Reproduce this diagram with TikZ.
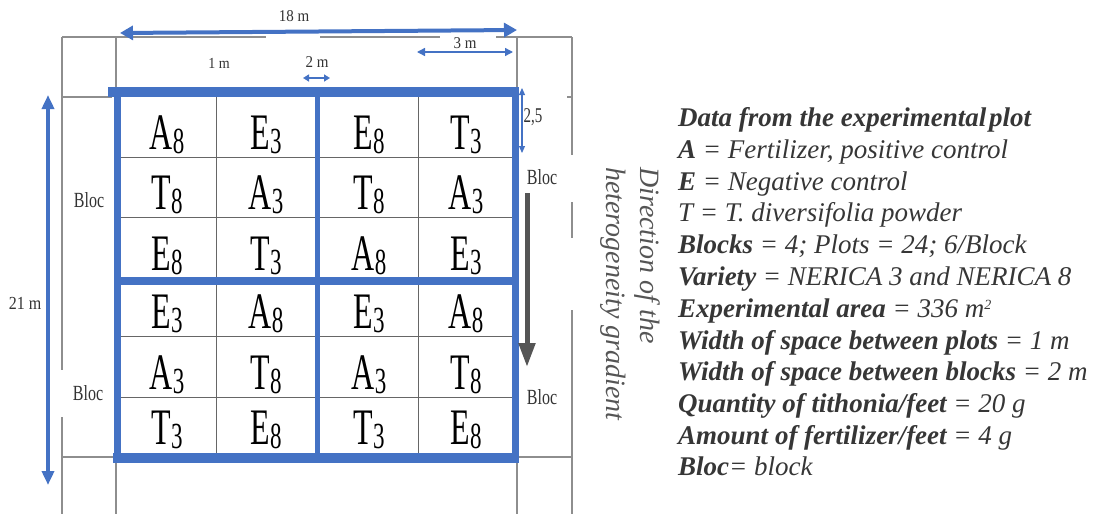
\documentclass[tikz,border=0pt]{standalone}
\usepackage{fontspec}
\setmainfont{Liberation Serif}
\usepackage{graphicx}
\usetikzlibrary{arrows.meta}

\definecolor{plotblue}{HTML}{4472C4}
\definecolor{guide}{HTML}{8E8E8E}
\definecolor{cellline}{HTML}{666666}
\definecolor{labeltext}{HTML}{333333}
\definecolor{legendtext}{HTML}{363636}
\definecolor{gradarrow}{HTML}{555555}

% treatment letter with its variety index, set tall and narrow
\newcommand{\plotcell}[2]{\scalebox{1}[1.6]{\fontsize{32}{32}\selectfont #1\raisebox{-2.5pt}{\fontsize{23}{23}\selectfont #2}}}
% small dimension label: size, vertical stretch, text
\newcommand{\dimtext}[3]{\scalebox{1}[#2]{\fontsize{#1}{#1}\selectfont #3}}

\begin{document}
\begin{tikzpicture}[x=1pt,y=-1pt,
  guideline/.style={draw=guide, line width=1.1pt},
  bluebar/.style={draw=plotblue, line width=#1},
  cellrule/.style={draw=cellline, line width=0.8pt},
  dimarrow/.style={draw=plotblue, line width=#1},
  lbl/.style={inner sep=0pt, text=labeltext},
  legendline/.style={anchor=base west, inner sep=0pt, text=legendtext,
    font=\fontsize{27}{30}\selectfont\itshape},
  cellmark/.style={anchor=base, inner sep=0pt, text=black},
  gradtext/.style={anchor=base west, rotate=-90, inner sep=0pt, text=gradarrow,
    font=\fontsize{28}{28}\selectfont\itshape}]

\useasboundingbox (0,0) rectangle (1102,514);

% ---- field layout guide lines ----
\draw[guideline] (62,37) -- (266,37);
\draw[guideline] (320,37) -- (440,37);
\draw[guideline] (496,37) -- (572,37);
\draw[guideline] (62,37) -- (62,370);
\draw[guideline] (62,417) -- (62,514);
\draw[guideline] (116,37) -- (116,90);
\draw[guideline] (116,457) -- (116,514);
\draw[guideline] (62,97) -- (112,97);
\draw[guideline] (62,457) -- (116,457);
\draw[guideline] (517,37) -- (517,88);
\draw[guideline] (517,457) -- (517,514);
\draw[guideline] (572,37) -- (572,155);
\draw[guideline] (572,202) -- (572,238);
\draw[guideline] (572,310) -- (572,514);
\draw[guideline] (567,97) -- (572,97);
\draw[guideline] (517,457) -- (572,457);

% ---- plot rules inside the blocks ----
\draw[cellrule] (216,95) -- (216,455);
\draw[cellrule] (418,95) -- (418,455);
\foreach \yy in {157,217,336,397}
  \draw[cellrule] (118,\yy) -- (514,\yy);

% ---- block borders ----
\draw[bluebar=7pt] (117,92) -- (117,462);
\draw[bluebar=7pt] (515,92) -- (515,462);
\draw[bluebar=5pt] (317,92) -- (317,458);
\draw[bluebar=8pt] (117,281) -- (515,281);
\draw[bluebar=10pt] (108,92) -- (519,92);
\draw[bluebar=10pt] (113,458) -- (519,458);

% ---- treatments ----
\foreach \nm/\xx/\yy/\lt/\ix in {
  p11/167/149/A/8, p12/266/149/E/3, p13/369/149/E/8, p14/466/149/T/3,
  p21/167/209/T/8, p22/266/209/A/3, p23/369/209/T/8, p24/466/209/A/3,
  p31/167/270/E/8, p32/266/270/T/3, p33/369/270/A/8, p34/466/270/E/3,
  p41/167/328/E/3, p42/266/328/A/8, p43/369/328/E/3, p44/466/328/A/8,
  p51/167/389/A/3, p52/266/389/T/8, p53/369/389/A/3, p54/466/389/T/8,
  p61/167/444/T/3, p62/266/444/E/8, p63/369/444/T/3, p64/466/444/E/8}
  \node[cellmark] (\nm) at (\xx,\yy) {\plotcell{\lt}{\ix}};

% ---- dimension arrows ----
\coordinate (wl) at (120,33);
\coordinate (wr) at (517,30);
\draw[dimarrow=4pt, {Triangle[length=13pt,width=14pt]}-{Triangle[length=13pt,width=14pt]}] (wl) -- (wr);
\node[lbl] (w18) at (294,16) {\dimtext{15}{1.1}{18 m}};

\coordinate (bl) at (417,52);
\coordinate (br) at (513,52);
\draw[dimarrow=1.4pt, {Triangle[length=8pt,width=8pt]}-{Triangle[length=8pt,width=8pt]}] (bl) -- (br);
\node[lbl] (w3) at (465,43) {\dimtext{15}{1.1}{3 m}};

\node[lbl] (w1) at (219,63) {\dimtext{14}{1.1}{1 m}};

\coordinate (gl) at (303,78);
\coordinate (gr) at (330,78);
\draw[dimarrow=1.8pt, {Triangle[length=6pt,width=7pt]}-{Triangle[length=6pt,width=7pt]}] (gl) -- (gr);
\node[lbl] (w2) at (317,62) {\dimtext{15}{1.1}{2 m}};

\coordinate (rt) at (522,88);
\coordinate (rb) at (522,153);
\draw[dimarrow=1.2pt, {Triangle[length=7pt,width=6pt]}-{Triangle[length=7pt,width=6pt]}] (rt) -- (rb);
\node[lbl] (h25) at (533,117) {\dimtext{15}{1.4}{2,5}};

\coordinate (lt) at (48,95);
\coordinate (lb) at (48,485);
\draw[dimarrow=3.5pt, {Triangle[length=14pt,width=12pt]}-{Triangle[length=14pt,width=12pt]}] (lt) -- (lb);
\node[lbl] (h21) at (25,303) {\dimtext{16}{1.15}{21 m}};

% ---- block labels ----
\node[lbl] (bloc1) at (89,200) {\dimtext{16}{1.35}{Bloc}};
\node[lbl] (bloc2) at (88,393) {\dimtext{16}{1.35}{Bloc}};
\node[lbl] (bloc3) at (542,177) {\dimtext{16}{1.35}{Bloc}};
\node[lbl] (bloc4) at (542,397) {\dimtext{16}{1.35}{Bloc}};

% ---- heterogeneity gradient ----
\coordinate (gtop) at (527,193);
\coordinate (gbot) at (527,367);
\draw[draw=gradarrow, line width=5pt, -{Triangle[length=24pt,width=16pt]}] (gtop) -- (gbot);
\node[gradtext] (dir1) at (640,167) {Direction of the};
\node[gradtext] (dir2) at (606,167) {heterogeneity gradient};

% ---- data legend ----
\node[legendline] (d1) at (678,126) {\bfseries Data from the experimental\hspace{0.1em}plot};
\node[legendline] (d2) at (678,158) {\textbf{A} = Fertilizer, positive control};
\node[legendline] (d3) at (678,190) {\textbf{E} = Negative control};
\node[legendline] (d4) at (678,221) {T = T. diversifolia powder};
\node[legendline] (d5) at (678,253) {\textbf{Blocks} = 4; Plots = 24; 6/Block};
\node[legendline] (d6) at (678,285) {\textbf{Variety} = NERICA 3 and NERICA 8};
\node[legendline] (d7) at (678,317) {\textbf{Experimental area} = 336 m\raisebox{8pt}{\fontsize{14}{14}\selectfont 2}};
\node[legendline] (d8) at (678,349) {\textbf{Width of space between plots} = 1 m};
\node[legendline] (d9) at (678,380) {\textbf{Width of space between blocks} = 2 m};
\node[legendline] (d10) at (678,412) {\textbf{Quantity of tithonia/feet} = 20 g};
\node[legendline] (d11) at (678,444) {\textbf{Amount of fertilizer/feet} = 4 g};
\node[legendline] (d12) at (678,475) {\textbf{Bloc}= block};
\end{tikzpicture}
\end{document}
